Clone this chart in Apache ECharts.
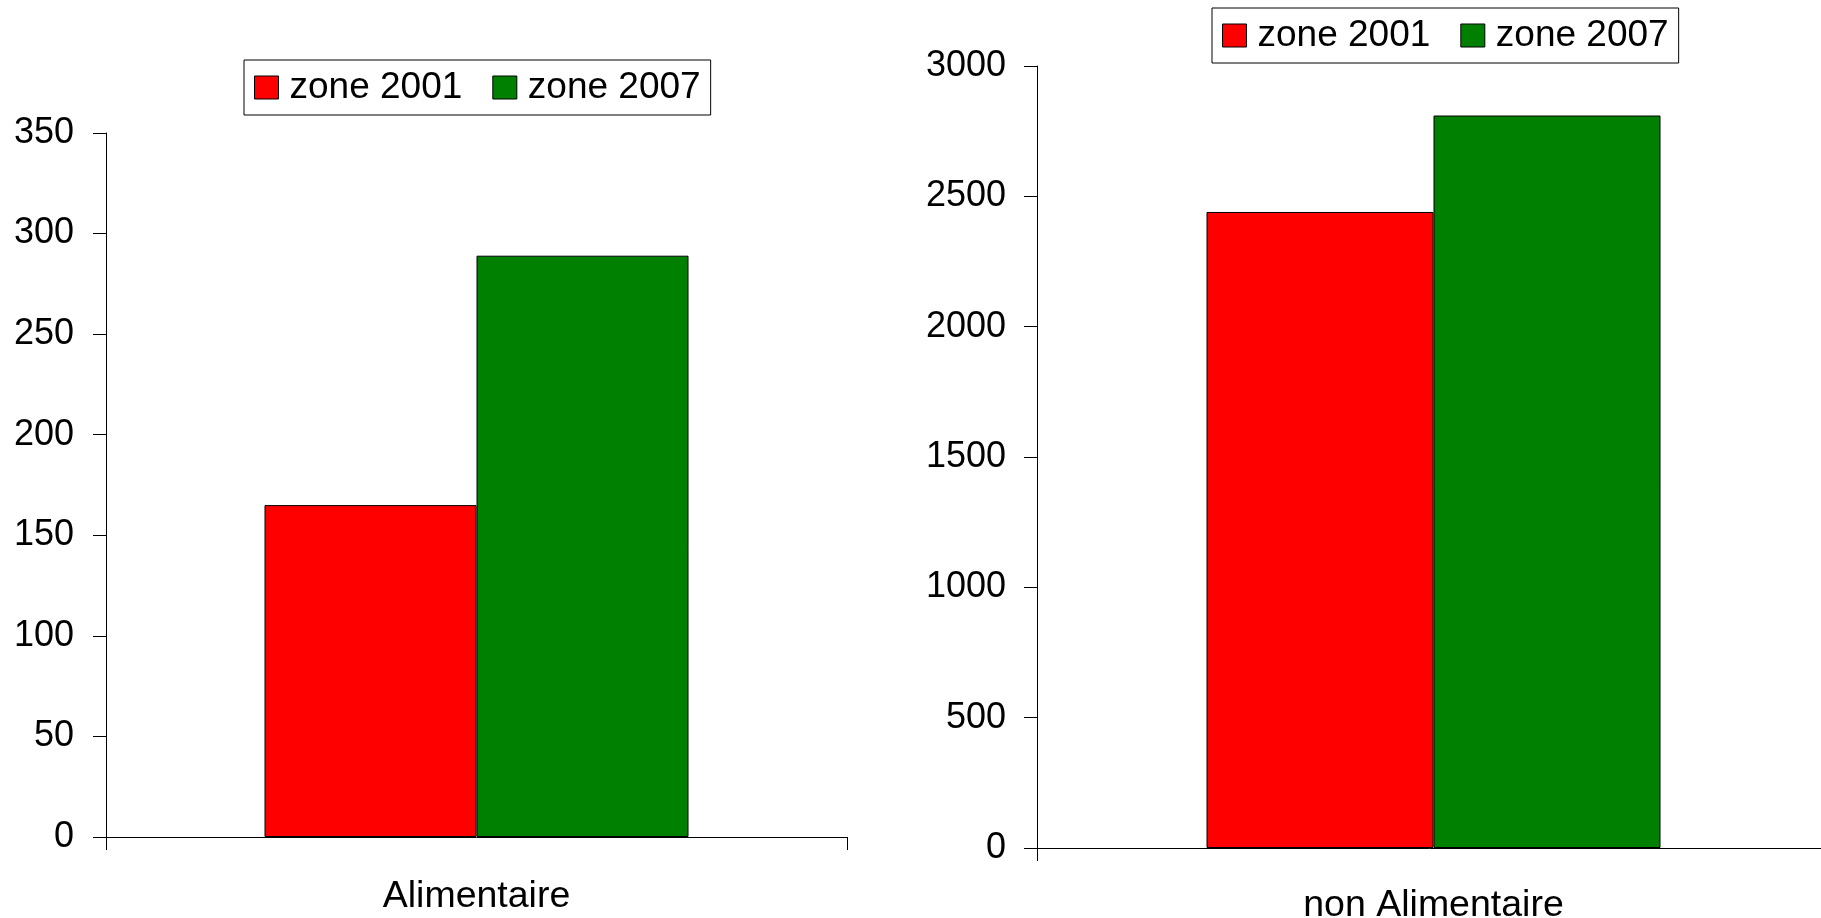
<!DOCTYPE html>
<html>
<head>
<meta charset="utf-8">
<script src="https://cdn.jsdelivr.net/npm/echarts@6/dist/echarts.min.js"></script>
<style>
  html, body { margin: 0; padding: 0; background: #fff; }
  #chart { width: 1821px; height: 918px; }
</style>
</head>
<body>
<div id="chart"></div>
<script>
// Two panels: food vs non-food, comparing zone 2001 and zone 2007
const seriesNames = ['zone 2001', 'zone 2007'];
const categoriesLeft = ['Alimentaire'];
const categoriesRight = ['non Alimentaire'];
const zone2001 = [165, 2440];
const zone2007 = [289, 2810];
const ticksLeft = { min: 0, max: 350, interval: 50 };
const ticksRight = { min: 0, max: 3000, interval: 500 };

const FONT = "'Liberation Sans', Arial, sans-serif";
const RED = '#ff0000';
const GREEN = '#008000';

function valueAxis(gridIndex, t, margin) {
  return {
    type: 'value', gridIndex,
    min: t.min, max: t.max, interval: t.interval,
    splitLine: { show: false },
    axisLine: { show: true, lineStyle: { color: '#000', width: 1 } },
    axisTick: { show: true, length: 13, lineStyle: { color: '#000', width: 1 } },
    axisLabel: {
      color: '#000', fontSize: 36, fontFamily: FONT, margin,
      formatter: v => String(v)
    }
  };
}
function categoryAxis(gridIndex, cats, margin) {
  return {
    type: 'category', gridIndex, data: cats,
    axisLine: { show: true, lineStyle: { color: '#000', width: 1 } },
    axisTick: { show: true, length: 13, lineStyle: { color: '#000', width: 1 } },
    axisLabel: { color: '#000', fontSize: 37.5, fontFamily: FONT, margin }
  };
}
function legendAt(left, top) {
  return {
    data: seriesNames, left, top, orient: 'horizontal',
    padding: [9, 10, 9, 10],
    borderColor: '#000', borderWidth: 1,
    itemWidth: 24, itemHeight: 23, itemGap: 30,
    icon: 'rect',
    itemStyle: { borderColor: '#000', borderWidth: 1 },
    textStyle: { color: '#000', fontSize: 37, fontFamily: FONT, padding: [0, 0, 0, 6] },
    selectedMode: false
  };
}
function bar(name, xi, yi, value, color, width) {
  return {
    type: 'bar', name, xAxisIndex: xi, yAxisIndex: yi,
    data: [value], barWidth: width, barGap: '0%',
    itemStyle: { color, borderColor: '#000', borderWidth: 1 },
    animation: false
  };
}

const chart = echarts.init(document.getElementById('chart'), null, { renderer: 'canvas' });
chart.setOption({
  backgroundColor: '#fff',
  animation: false,
  textStyle: { fontFamily: FONT },
  legend: [legendAt(244, 60), legendAt(1212, 8)],
  grid: [
    { left: 106, top: 133, width: 741, height: 704, outerBoundsMode: 'none' },
    // the right panel's axis runs past the edge of the page
    { left: 1037, top: 66, width: 793, height: 782, outerBoundsMode: 'none' }
  ],
  xAxis: [categoryAxis(0, categoriesLeft, 41), categoryAxis(1, categoriesRight, 39)],
  yAxis: [valueAxis(0, ticksLeft, 32), valueAxis(1, ticksRight, 31)],
  series: [
    bar(seriesNames[0], 0, 0, zone2001[0], RED, 212),
    bar(seriesNames[1], 0, 0, zone2007[0], GREEN, 212),
    bar(seriesNames[0], 1, 1, zone2001[1], RED, 227),
    bar(seriesNames[1], 1, 1, zone2007[1], GREEN, 227)
  ]
});
</script>
</body>
</html>
